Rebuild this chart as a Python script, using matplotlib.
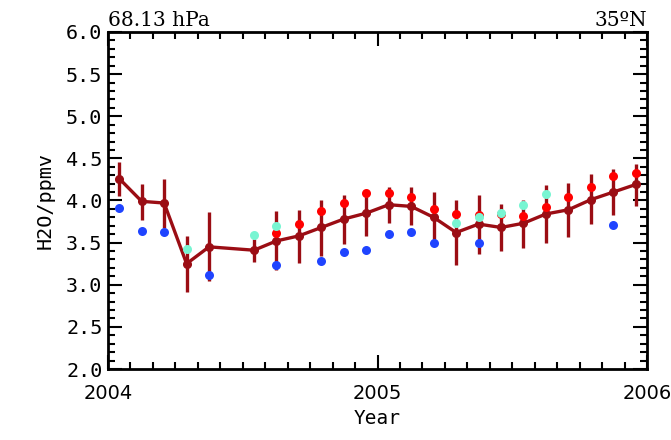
import matplotlib
matplotlib.use("Agg")
import matplotlib.pyplot as plt
import numpy as np
from matplotlib.ticker import MultipleLocator, FuncFormatter

# monthly means (mid-month), 2004-2005; None = no data
months = np.arange(24)
mean = [4.26, 3.99, 3.97, 3.25, 3.45, None, 3.41, 3.52, 3.58, 3.68, 3.78, 3.85,
        3.95, 3.93, 3.80, 3.62, 3.72, 3.68, 3.73, 3.84, 3.89, 4.01, 4.10, 4.19]
err_hi = [4.46, 4.20, 4.25, 3.58, 3.86, None, 3.54, 3.87, 3.89, 4.01, 4.07, 4.11,
          4.16, 4.16, 4.10, 4.00, 4.06, 3.96, 4.01, 4.18, 4.21, 4.31, 4.37, 4.43]
err_lo = [4.05, 3.77, 3.67, 2.91, 3.05, None, 3.27, 3.18, 3.26, 3.34, 3.48, 3.58,
          3.73, 3.71, 3.50, 3.24, 3.36, 3.40, 3.44, 3.49, 3.57, 3.72, 3.83, 3.94]
red = [None, None, None, None, None, None, None, 3.61, 3.72, 3.88, 3.97, 4.09,
       4.09, 4.04, 3.90, 3.84, 3.83, 3.84, 3.82, 3.92, 4.04, 4.16, 4.29, 4.33]
cyan = [None, None, None, 3.42, None, None, 3.59, 3.70, None, None, None, None,
        None, None, None, 3.73, 3.80, 3.85, 3.95, 4.08, None, None, None, None]
blue = [3.91, 3.64, 3.63, None, 3.11, None, None, 3.24, None, 3.28, 3.39, 3.41,
        3.60, 3.63, 3.49, None, 3.50, None, None, None, None, None, 3.71, None]


def valid(vals):
    idx = [i for i, v in enumerate(vals) if v is not None]
    return (2004 + (months[idx] + 0.5) / 12.0, np.array([vals[i] for i in idx]))


fig = plt.figure(figsize=(6.71, 4.40), dpi=100)
ax = fig.add_axes([108 / 671, 71 / 440, 539 / 671, 337 / 440])

dark = "#9b0d14"
xm, ym = valid(mean)
_, yh = valid(err_hi)
_, yl = valid(err_lo)
ax.vlines(xm, yl, yh, color=dark, lw=2.4, zorder=2)
ax.plot(xm, ym, "-o", color=dark, lw=2.4, ms=5.5, zorder=3)

xr, yr = valid(red)
ax.plot(xr, yr, "o", color="#ff0000", ms=6.5, mec="none", zorder=4)
xc, yc = valid(cyan)
ax.plot(xc, yc, "o", color="#78f5d2", ms=6.5, mec="none", zorder=5)
xb, yb = valid(blue)
ax.plot(xb, yb, "o", color="#1f44ff", ms=6.5, mec="none", zorder=4)

ax.set_xlim(2004, 2006)
ax.set_ylim(2.0, 6.0)
ax.xaxis.set_major_locator(MultipleLocator(1))
ax.xaxis.set_minor_locator(MultipleLocator(1 / 12))
ax.yaxis.set_major_locator(MultipleLocator(0.5))
ax.yaxis.set_minor_locator(MultipleLocator(0.1))
ax.xaxis.set_major_formatter(FuncFormatter(lambda v, p: f"{v:.0f}"))
ax.yaxis.set_major_formatter(FuncFormatter(lambda v, p: f"{v:.1f}"))

ax.tick_params(which="both", direction="in", top=True, right=True, width=1.5, colors="black")
ax.tick_params(which="major", length=10)
ax.tick_params(which="minor", length=5)
ax.tick_params(axis="x", which="major", pad=11, labelsize=14)
ax.tick_params(axis="y", which="major", pad=4, labelsize=14.5)
for lab in ax.get_yticklabels():
    lab.set_family("DejaVu Sans Mono")
for s in ax.spines.values():
    s.set_linewidth(2)

ax.set_xlabel("Year", family="DejaVu Sans Mono", fontsize=14, labelpad=4)
ax.set_ylabel("H2O/ppmv", family="DejaVu Sans Mono", fontsize=14.5, labelpad=8)

ax.text(0, 1.005, "68.13 hPa", transform=ax.transAxes, ha="left", va="bottom",
        family="DejaVu Serif", fontsize=14.5)
ax.text(1, 1.005, "35ºN", transform=ax.transAxes, ha="right", va="bottom",
        family="DejaVu Serif", fontsize=14.5)

fig.savefig("out.png", dpi=100)
